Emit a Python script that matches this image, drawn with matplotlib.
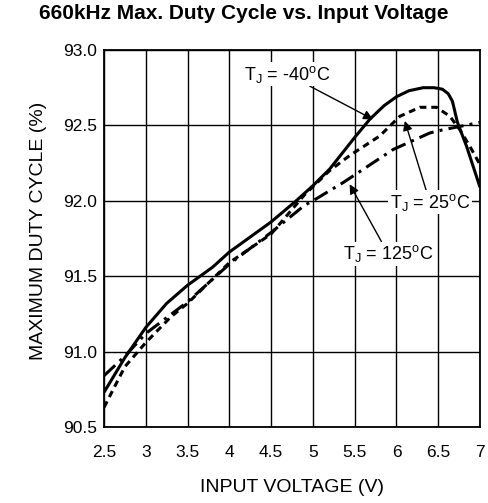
import numpy as np
import matplotlib.pyplot as plt

plt.rcParams['font.family'] = ['Liberation Sans', 'DejaVu Sans']
plt.rcParams['mathtext.fontset'] = 'custom'
plt.rcParams['mathtext.rm'] = 'Liberation Sans'
plt.rcParams['mathtext.it'] = 'Liberation Sans'

vin_m40 = [2.5, 2.75, 3.0, 3.25, 3.5, 3.8, 4.0, 4.5, 4.8, 5.0, 5.2, 5.5, 5.68, 5.85, 6.0, 6.15, 6.32, 6.45, 6.55, 6.62, 6.67, 6.73, 6.84, 7.0]
duty_m40 = [90.73, 90.96, 91.16, 91.32, 91.44, 91.56, 91.66, 91.86, 92.0, 92.1, 92.21, 92.42, 92.54, 92.63, 92.69, 92.73, 92.75, 92.75, 92.74, 92.71, 92.66, 92.52, 92.36, 92.09]

vin_25 = [2.5, 2.75, 3.0, 3.3, 3.5, 4.0, 4.5, 4.9, 5.2, 5.44, 5.8, 6.04, 6.28, 6.48, 6.64, 6.76, 6.88, 7.0]
duty_25 = [90.63, 90.9, 91.06, 91.23, 91.32, 91.59, 91.78, 92.04, 92.2, 92.3, 92.43, 92.56, 92.62, 92.62, 92.56, 92.47, 92.36, 92.24]

vin_125 = [2.5, 2.75, 3.0, 3.5, 4.0, 4.5, 4.9, 5.0, 5.36, 5.96, 6.4, 6.55, 7.0]
duty_125 = [90.84, 90.97, 91.12, 91.33, 91.58, 91.79, 91.97, 92.0, 92.12, 92.34, 92.45, 92.47, 92.52]

fig = plt.figure(figsize=(4.88, 5.03), dpi=100)
ax = fig.add_axes([104 / 488, 1 - 427 / 503, 376 / 488, 377 / 503])

ax.plot(vin_m40, duty_m40, color='black', lw=2.2, solid_capstyle='butt')
ax.plot(vin_25, duty_25, color='black', lw=2.2, linestyle=(0, (2.2, 1.6)))
ax.plot(vin_125, duty_125, color='black', lw=2.2, linestyle=(0, (5, 2, 1, 2)))

ax.set_xlim(2.5, 7)
ax.set_ylim(90.5, 93.0)
ax.set_xticks(np.arange(2.5, 7.01, 0.5))
ax.set_xticklabels(['2.5', '3', '3.5', '4', '4.5', '5', '5.5', '6', '6.5', '7'])
ax.set_yticks(np.arange(90.5, 93.01, 0.5))
ax.set_yticklabels(['90.5', '91.0', '91.5', '92.0', '92.5', '93.0'])
ax.tick_params(length=0, labelsize=12.5)
ax.tick_params(axis='x', pad=13)
ax.tick_params(axis='y', pad=5)
ax.grid(True, color='black', lw=1.0)
for s in ax.spines.values():
    s.set_linewidth(1.3)

ax.set_xlabel('INPUT VOLTAGE (V)', fontsize=14, labelpad=14)
ax.set_ylabel('MAXIMUM DUTY CYCLE (%)', fontsize=14)
ax.yaxis.set_label_coords(-0.152, 0.52)
fig.suptitle('660kHz Max. Duty Cycle vs. Input Voltage', fontsize=15, fontweight='bold', x=0.5, y=0.992)

arrow = dict(arrowstyle='-|>', color='black', lw=1.0, mutation_scale=14, shrinkA=0, shrinkB=0)
box = dict(facecolor='white', edgecolor='none', pad=1)
ax.annotate('T$_J$ = -40$^o$C', xy=(5.72, 92.54), xytext=(4.69, 92.84), fontsize=13,
            ha='center', va='center', arrowprops=arrow, bbox=box)
ax.annotate('T$_J$ = 25$^o$C', xy=(6.1, 92.53), xytext=(6.4, 91.99), fontsize=13,
            ha='center', va='center', arrowprops=arrow, bbox=box)
ax.annotate('T$_J$ = 125$^o$C', xy=(5.44, 92.11), xytext=(5.9, 91.65), fontsize=13,
            ha='center', va='center', arrowprops=arrow, bbox=box)

fig.savefig('out.png', dpi=100)
